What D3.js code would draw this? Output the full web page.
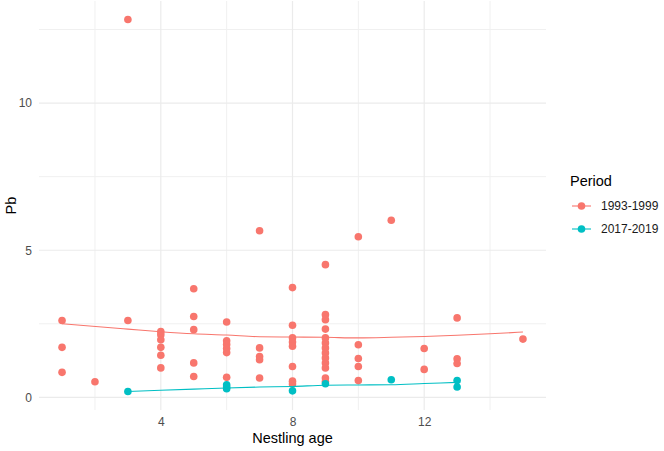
<!DOCTYPE html>
<html>
<head>
<meta charset="utf-8">
<script src="https://cdn.jsdelivr.net/npm/d3@7"></script>
<style>
  body { margin: 0; background: #fff; }
  svg { font-family: "Liberation Sans", Arial, sans-serif; }
</style>
</head>
<body>
<div id="chart"></div>
<script>
// raw samples, period 1993-1999
const oldAge = [1, 1, 1, 2, 3, 3,
  4, 4, 4, 4, 4, 4,
  5, 5, 5, 5, 5,
  6, 6, 6, 6, 6, 6,
  7, 7, 7, 7, 7,
  8, 8, 8, 8, 8, 8, 8, 8,
  9, 9, 9, 9, 9, 9, 9, 9, 9, 9, 9, 9, 9,
  10, 10, 10, 10, 10,
  11, 12, 12, 13, 13, 13, 15];
const oldPb = [2.61, 1.70, 0.85, 0.53, 2.61, 12.84,
  2.24, 2.13, 1.96, 1.70, 1.43, 1.00,
  3.69, 2.75, 2.30, 1.17, 0.71,
  2.56, 1.92, 1.80, 1.66, 1.52, 0.68,
  5.66, 1.68, 1.39, 1.28, 0.66,
  3.73, 2.45, 2.02, 1.88, 1.74, 1.05, 0.55, 0.45,
  4.51, 2.81, 2.64, 2.32, 2.02, 1.85, 1.68, 1.51, 1.34, 1.17, 1.00, 0.66, 0.54,
  5.46, 1.79, 1.32, 1.05, 0.57,
  6.02, 1.66, 0.95, 2.70, 1.31, 1.15, 1.98];

// period 2017-2019
const newAge = [3, 6, 6, 6, 8, 9, 11, 13, 13];
const newPb = [0.20, 0.43, 0.35, 0.29, 0.22, 0.46, 0.60, 0.57, 0.35];

// smoothed curves
const oldFitAge = [1, 3, 4, 5, 6, 7, 8, 9, 10, 11, 12, 13, 14, 15];
const oldFitPb = [2.50, 2.32, 2.23, 2.16, 2.12, 2.06, 2.05, 2.04, 2.02, 2.04, 2.07, 2.11, 2.16, 2.22];
const newFitAge = [3, 4, 5, 6, 7, 8, 9, 10, 11, 12, 13];
const newFitPb = [0.20, 0.24, 0.28, 0.32, 0.35, 0.37, 0.41, 0.42, 0.43, 0.47, 0.51];

const periods = ['1993-1999', '2017-2019'];
const colors = ['#F8766D', '#00BFC4'];
const xTicks = [4, 8, 12];
const yTicks = [0, 5, 10];

const width = 664, height = 451;
const margin = {top: 1, right: 118, bottom: 41, left: 39};

const svg = d3.select('#chart').append('svg')
  .attr('width', width)
  .attr('height', height);

const x = d3.scaleLinear()
  .domain([0.3, 15.7])
  .range([margin.left, width - margin.right]);
const y = d3.scaleLinear()
  .domain([-0.43, 13.47])
  .range([height - margin.bottom, margin.top]);

const color = d3.scaleOrdinal().domain(periods).range(colors);

// grid: minor then major
const grid = svg.append('g');
const xMinor = [2, 6, 10, 14];
const yMinor = [2.5, 7.5, 12.5];
grid.selectAll('.xminor').data(xMinor).enter().append('line')
  .attr('x1', d => x(d)).attr('x2', d => x(d))
  .attr('y1', y.range()[0]).attr('y2', y.range()[1])
  .attr('stroke', '#f0f0f0').attr('stroke-width', 1);
grid.selectAll('.yminor').data(yMinor).enter().append('line')
  .attr('y1', d => y(d)).attr('y2', d => y(d))
  .attr('x1', x.range()[0]).attr('x2', x.range()[1])
  .attr('stroke', '#f0f0f0').attr('stroke-width', 1);
grid.selectAll('.xmajor').data(xTicks).enter().append('line')
  .attr('x1', d => x(d)).attr('x2', d => x(d))
  .attr('y1', y.range()[0]).attr('y2', y.range()[1])
  .attr('stroke', '#ebebeb').attr('stroke-width', 1.2);
grid.selectAll('.ymajor').data(yTicks).enter().append('line')
  .attr('y1', d => y(d)).attr('y2', d => y(d))
  .attr('x1', x.range()[0]).attr('x2', x.range()[1])
  .attr('stroke', '#ebebeb').attr('stroke-width', 1.2);

// axes, no lines, only labels
const xAxis = svg.append('g')
  .attr('transform', `translate(0,${height - margin.bottom})`)
  .call(d3.axisBottom(x).tickValues(xTicks).tickSize(0).tickPadding(7));
const yAxis = svg.append('g')
  .attr('transform', `translate(${margin.left},0)`)
  .call(d3.axisLeft(y).tickValues(yTicks).tickSize(0).tickPadding(7));
[xAxis, yAxis].forEach(a => {
  a.select('.domain').remove();
  a.selectAll('text')
    .attr('fill', '#4d4d4d')
    .style('font-size', '12px')
    .style('font-family', '"Liberation Sans", Arial, sans-serif');
});

svg.append('text')
  .attr('x', (x.range()[0] + x.range()[1]) / 2)
  .attr('y', 443)
  .attr('text-anchor', 'middle')
  .style('font-size', '14.5px')
  .text('Nestling age');
svg.append('text')
  .attr('transform', `translate(16,${(y.range()[0] + y.range()[1]) / 2}) rotate(-90)`)
  .attr('text-anchor', 'middle')
  .style('font-size', '14.5px')
  .text('Pb');

// points
const series = [
  {name: periods[0], age: oldAge, pb: oldPb, fitAge: oldFitAge, fitPb: oldFitPb},
  {name: periods[1], age: newAge, pb: newPb, fitAge: newFitAge, fitPb: newFitPb}
];
const line = d3.line().x(d => x(d[0])).y(d => y(d[1]));

series.forEach(s => {
  svg.append('g').selectAll('circle')
    .data(d3.zip(s.age, s.pb))
    .enter().append('circle')
    .attr('cx', d => x(d[0]))
    .attr('cy', d => y(d[1]))
    .attr('r', 3.8)
    .attr('fill', color(s.name));
});
series.forEach(s => {
  svg.append('path')
    .datum(d3.zip(s.fitAge, s.fitPb))
    .attr('d', line.curve(d3.curveMonotoneX))
    .attr('fill', 'none')
    .attr('stroke', color(s.name))
    .attr('stroke-width', 1.1);
});

// legend
const legend = svg.append('g').attr('transform', 'translate(570,0)');
legend.append('text')
  .attr('x', 0).attr('y', 186)
  .style('font-size', '14.5px')
  .text('Period');
const key = legend.selectAll('.key')
  .data(periods).enter().append('g')
  .attr('transform', (d, i) => `translate(0,${206 + i * 23})`);
key.append('line')
  .attr('x1', 2).attr('x2', 21)
  .attr('stroke', d => color(d)).attr('stroke-width', 1.1);
key.append('circle')
  .attr('cx', 11.5).attr('r', 3.8)
  .attr('fill', d => color(d));
key.append('text')
  .attr('x', 31).attr('y', 4)
  .style('font-size', '12px')
  .attr('fill', '#1a1a1a')
  .text(d => d);
</script>
</body>
</html>
